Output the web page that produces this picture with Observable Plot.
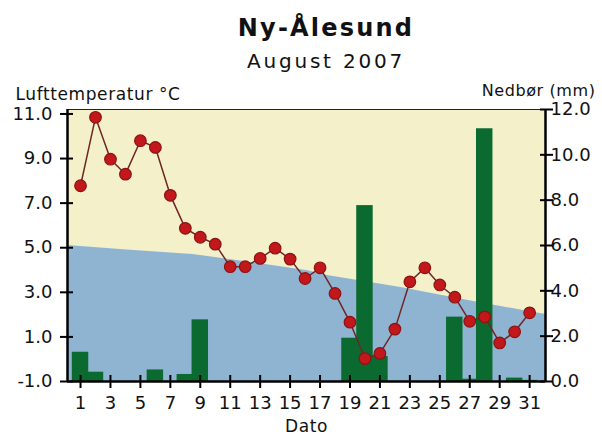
<!DOCTYPE html>
<html>
<head>
<meta charset="utf-8">
<script src="https://cdn.jsdelivr.net/npm/d3@7"></script>
<script src="https://cdn.jsdelivr.net/npm/@observablehq/plot@0.6"></script>
<style>
  body { margin: 0; background: #fff; font-family: "DejaVu Sans", sans-serif; }
  #head { position: relative; width: 602px; height: 72px; }
  #title { position: absolute; left: 0; width: 652px; text-align: center; top: 16px; font-size: 24px; line-height: 1; font-weight: bold; letter-spacing: 2.2px; color: #111; }
  #subtitle { position: absolute; left: 0; width: 652px; text-align: center; top: 51px; font-size: 20px; line-height: 1; letter-spacing: 2.8px; color: #111; }
</style>
</head>
<body>
<div id="head">
  <div id="title">Ny-Ålesund</div>
  <div id="subtitle">August 2007</div>
</div>
<div id="chart"></div>
<script>
const days = [1,2,3,4,5,6,7,8,9,10,11,12,13,14,15,16,17,18,19,20,21,22,23,24,25,26,27,28,29,30,31];
const temperature = [7.78,10.85,8.97,8.3,9.8,9.5,7.35,5.87,5.47,5.16,4.15,4.15,4.52,4.98,4.49,3.62,4.1,2.95,1.66,0.03,0.26,1.35,3.47,4.1,3.33,2.78,1.7,1.9,0.73,1.23,2.08];
const precipitation = [1.29,0.41,0,0,0,0.51,0,0.31,2.72,0,0,0,0,0,0,0,0,0,1.91,7.76,1.10,0,0,0,0,2.84,0.1,11.15,0,0.15,0.05];
const normalDays = [0.13,4.1,8.5,13,16.2,17.5,22.4,26.9,31.7,32.06];
const normalTemp = [5.1,4.9,4.7,4.28,3.97,3.75,3.22,2.63,2.05,2.02];
const leftTicks = [-1,1,3,5,7,9,11];
const rightTicks = [0,2,4,6,8,10,12];
const xTicks = [1,3,5,7,9,11,13,15,17,19,21,23,25,27,29,31];

const beige = "#f3f0ca", blue = "#8fb4d2", green = "#0b6a30", red = "#c2181c";
const xDomain = [0.13, 32.06];
const yDomain = [-1, 11.2];
const mmToY = mm => -1 + mm * (12.2 / 12);
const yToMm = y => (y + 1) * 12 / 12.2;

const data = days.map((d, i) => ({day: d, t: temperature[i], p: precipitation[i]}));
const normal = normalDays.map((d, i) => ({day: d, t: normalTemp[i]}));

const chart = Plot.plot({
  width: 602,
  height: 363,
  marginTop: 37,
  marginBottom: 54,
  marginLeft: 67,
  marginRight: 57,
  x: {domain: xDomain, label: null},
  y: {domain: yDomain, label: null},
  style: {fontFamily: "DejaVu Sans", fontSize: "18px", color: "#111", background: "transparent", overflow: "visible"},
  marks: [
    Plot.frame({fill: beige}),
    Plot.areaY(normal, {x: "day", y1: () => -1, y2: "t", fill: blue}),
    Plot.rect(data.filter(d => d.p > 0), {x1: d => d.day - 0.55, x2: d => d.day + 0.55, y1: () => -1, y2: d => mmToY(d.p), fill: green}),
    Plot.line(data, {x: "day", y: "t", stroke: "#6e2626", strokeWidth: 1.5}),
    Plot.dot(data, {x: "day", y: "t", r: 5.8, fill: red, stroke: "#8c1212", strokeWidth: 1.2}),
    Plot.ruleY([yDomain[1]], {stroke: "#222", strokeWidth: 1}),
    Plot.ruleX([xDomain[0]], {stroke: "#000", strokeWidth: 2.5}),
    Plot.ruleX([xDomain[1]], {stroke: "#000", strokeWidth: 2.5}),
    Plot.ruleY([yDomain[0]], {stroke: "#000", strokeWidth: 2.5}),
    // left axis
    Plot.axisY({anchor: "left", label: null, ticks: leftTicks, tickSize: 13, dx: 6, tickFormat: () => "", strokeWidth: 2, stroke: "#000"}),
    Plot.axisY({anchor: "left", label: null, ticks: leftTicks, tickSize: 0, tickPadding: 15, tickFormat: d => d.toFixed(1), fontSize: 18, fill: "#111"}),
    // right axis (precipitation)
    Plot.axisY({anchor: "right", label: null, ticks: rightTicks.map(mmToY), tickSize: 13, dx: -6, tickFormat: () => "", strokeWidth: 2, stroke: "#000"}),
    Plot.axisY({anchor: "right", label: null, ticks: rightTicks.map(mmToY), tickSize: 0, tickPadding: 5, tickFormat: d => yToMm(d).toFixed(1), fontSize: 18, fill: "#111"}),
    // x axis
    Plot.axisX({anchor: "bottom", label: null, ticks: xTicks, tickSize: 13, dy: -6, tickFormat: () => "", strokeWidth: 2, stroke: "#000"}),
    Plot.axisX({anchor: "bottom", label: null, ticks: xTicks, tickSize: 0, tickPadding: 15, tickFormat: d => String(d), fontSize: 18, fill: "#111"}),
    // axis titles
    Plot.text(["Lufttemperatur °C"], {frameAnchor: "top-left", dx: -52, dy: -15, textAnchor: "start", lineAnchor: "middle", fontSize: 17, fill: "#111"}),
    Plot.text(["Nedbør (mm)"], {frameAnchor: "top-right", dx: 50, dy: -19, textAnchor: "end", lineAnchor: "middle", fontSize: 16, fill: "#111"}),
    Plot.text(["Dato"], {frameAnchor: "bottom", dy: 45, textAnchor: "middle", lineAnchor: "middle", fontSize: 17, fill: "#111"})
  ]
});
d3.select(chart).selectAll('g[aria-label="text"] text').attr("letter-spacing", "0.6px");
document.getElementById("chart").appendChild(chart);
</script>
</body>
</html>
